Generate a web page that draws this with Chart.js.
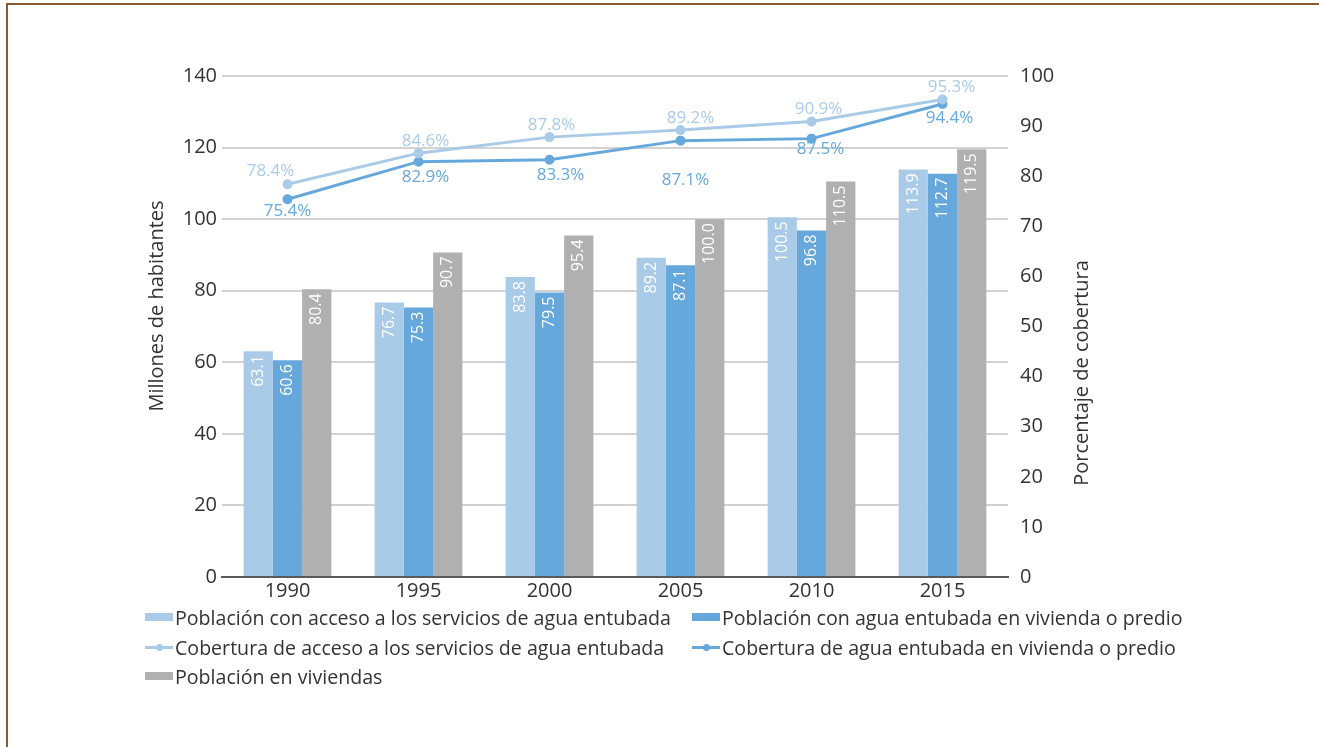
<!DOCTYPE html>
<html>
<head>
<meta charset="utf-8">
<script src="https://cdn.jsdelivr.net/npm/chart.js@4.4.1/dist/chart.umd.min.js"></script>
<style>
  body { margin: 0; background: #fff; font-family: "Open Sans", sans-serif; }
  #wrap { position: relative; width: 1319px; height: 747px; overflow: hidden; }
  #frame {
    position: absolute; left: 6px; top: 3px; right: -10px; bottom: -10px;
    border-top: 2px solid #8a5a2e; border-left: 2px solid #8a5a2e;
  }
  #legend { position: absolute; left: 0; top: 0; font-size: 19.6px; color: #333; }
  .item { position: absolute; display: flex; align-items: center; white-space: nowrap; height: 24px; }
  .box { width: 28px; height: 8px; margin-right: 2px; }
  .ln { position: relative; width: 28px; height: 3px; margin-right: 2px; }
  .ln span { position: absolute; left: 11px; top: -2px; width: 7px; height: 7px; border-radius: 50%; }
</style>
</head>
<body>
<div id="wrap">
  <div id="frame"></div>
  <canvas id="chart" width="1319" height="747"></canvas>
  <div id="legend"></div>
</div>
<script>
const years = ['1990', '1995', '2000', '2005', '2010', '2015'];

// millions of inhabitants
const popAccess = [63.1, 76.7, 83.8, 89.2, 100.5, 113.9];
const popHome = [60.6, 75.3, 79.5, 87.1, 96.8, 112.7];
const popDwellings = [80.4, 90.7, 95.4, 100.0, 110.5, 119.5];

// coverage, percent
const covAccess = [78.4, 84.6, 87.8, 89.2, 90.9, 95.3];
const covHome = [75.4, 82.9, 83.3, 87.1, 87.5, 94.4];

const leftTicks = [0, 20, 40, 60, 80, 100, 120, 140];
const rightTicks = [0, 10, 20, 30, 40, 50, 60, 70, 80, 90, 100];

const LIGHT = '#a9cbe8';
const MID = '#67a8dc';
const GRAY = '#b0b0b0';
const TEXT = '#333333';
const FONT = '"Open Sans", sans-serif';

// label nudges for the coverage lines [dx, dy]
const accessNudge = [[-17, -13], [7, -12], [2, -12], [10, -12], [7, -12], [9, -12]];
const homeNudge = [[0, 12], [7, 15], [11, 15], [5, 40], [9, 11], [7, 14]];

const valueLabels = {
  id: 'valueLabels',
  afterDatasetsDraw(chart) {
    const ctx = chart.ctx;
    ctx.save();
    chart.data.datasets.forEach((ds, di) => {
      const meta = chart.getDatasetMeta(di);
      if (ds.type === 'line') {
        const nudge = di === 3 ? accessNudge : homeNudge;
        ctx.font = '17px ' + FONT;
        ctx.fillStyle = ds.borderColor;
        ctx.textAlign = 'center';
        ctx.textBaseline = 'middle';
        meta.data.forEach((pt, i) => {
          ctx.fillText(ds.data[i].toFixed(1) + '%', pt.x + nudge[i][0], pt.y + nudge[i][1]);
        });
      } else {
        ctx.font = '16px ' + FONT;
        ctx.fillStyle = '#ffffff';
        ctx.textAlign = 'right';
        ctx.textBaseline = 'middle';
        meta.data.forEach((bar, i) => {
          ctx.save();
          ctx.translate(bar.x, bar.y + 4);
          ctx.rotate(-Math.PI / 2);
          ctx.fillText(ds.data[i].toFixed(1), 0, 0);
          ctx.restore();
        });
      }
    });
    ctx.restore();
  }
};

const axisTitles = {
  id: 'axisTitles',
  afterDraw(chart) {
    const ctx = chart.ctx;
    ctx.save();
    ctx.font = '20px ' + FONT;
    ctx.fillStyle = TEXT;
    ctx.textAlign = 'center';
    ctx.textBaseline = 'middle';
    [['Millones de habitantes', 157, 306], ['Porcentaje de cobertura', 1082, 373]].forEach(([t, x, y]) => {
      ctx.save();
      ctx.translate(x, y);
      ctx.rotate(-Math.PI / 2);
      ctx.fillText(t, 0, 0);
      ctx.restore();
    });
    ctx.restore();
  }
};

const barStyle = { type: 'bar', yAxisID: 'y', borderWidth: 0, categoryPercentage: 0.67, barPercentage: 1.0, order: 2 };
const lineStyle = { type: 'line', yAxisID: 'y1', borderWidth: 3, pointRadius: 3.5, pointHoverRadius: 3.5, order: 1 };

new Chart(document.getElementById('chart'), {
  data: {
    labels: years,
    datasets: [
      { ...barStyle, label: 'Población con acceso a los servicios de agua entubada', data: popAccess, backgroundColor: LIGHT },
      { ...barStyle, label: 'Población con agua entubada en vivienda o predio', data: popHome, backgroundColor: MID },
      { ...barStyle, label: 'Población en viviendas', data: popDwellings, backgroundColor: GRAY },
      { ...lineStyle, label: 'Cobertura de acceso a los servicios de agua entubada', data: covAccess, borderColor: LIGHT, backgroundColor: LIGHT },
      { ...lineStyle, label: 'Cobertura de agua entubada en vivienda o predio', data: covHome, borderColor: MID, backgroundColor: MID }
    ]
  },
  options: {
    responsive: false,
    animation: false,
    events: [],
    layout: { padding: { top: 76, left: 0, right: 0, bottom: 0 } },
    plugins: { legend: { display: false }, tooltip: { enabled: false } },
    scales: {
      x: {
        grid: { drawOnChartArea: false, drawTicks: false },
        border: { display: true, color: '#5a5a5a', width: 2 },
        ticks: { color: TEXT, font: { family: FONT, size: 20 }, padding: 2 },
        afterFit(s) { s.height = 170; }
      },
      y: {
        position: 'left',
        min: 0, max: 140,
        grid: { color: '#d2d2d2', lineWidth: 2, drawTicks: false },
        border: { display: false },
        afterBuildTicks(s) { s.ticks = leftTicks.map(v => ({ value: v })); },
        ticks: { color: TEXT, font: { family: FONT, size: 20 }, padding: 5 },
        afterFit(s) { s.width = 222; }
      },
      y1: {
        position: 'right',
        min: 0, max: 100,
        grid: { drawOnChartArea: false, drawTicks: false },
        border: { display: false },
        afterBuildTicks(s) { s.ticks = rightTicks.map(v => ({ value: v })); },
        ticks: { color: TEXT, font: { family: FONT, size: 20 }, padding: 12 },
        afterFit(s) { s.width = 311; }
      }
    }
  },
  plugins: [valueLabels, axisTitles]
});

// legend laid out in two columns under the chart
const legendItems = [
  { text: 'Población con acceso a los servicios de agua entubada', kind: 'box', color: LIGHT, x: 145, y: 617 },
  { text: 'Población con agua entubada en vivienda o predio', kind: 'box', color: MID, x: 692, y: 617 },
  { text: 'Cobertura de acceso a los servicios de agua entubada', kind: 'line', color: LIGHT, x: 145, y: 647 },
  { text: 'Cobertura de agua entubada en vivienda o predio', kind: 'line', color: MID, x: 692, y: 647 },
  { text: 'Población en viviendas', kind: 'box', color: GRAY, x: 145, y: 676 }
];
const legend = document.getElementById('legend');
legendItems.forEach(it => {
  const el = document.createElement('div');
  el.className = 'item';
  el.style.left = it.x + 'px';
  el.style.top = (it.y - 12) + 'px';
  const sw = document.createElement('div');
  if (it.kind === 'box') {
    sw.className = 'box';
    sw.style.background = it.color;
  } else {
    sw.className = 'ln';
    sw.style.background = it.color;
    const dot = document.createElement('span');
    dot.style.background = it.color;
    sw.appendChild(dot);
  }
  el.appendChild(sw);
  const label = document.createElement('span');
  label.textContent = it.text;
  el.appendChild(label);
  legend.appendChild(el);
});
</script>
</body>
</html>
